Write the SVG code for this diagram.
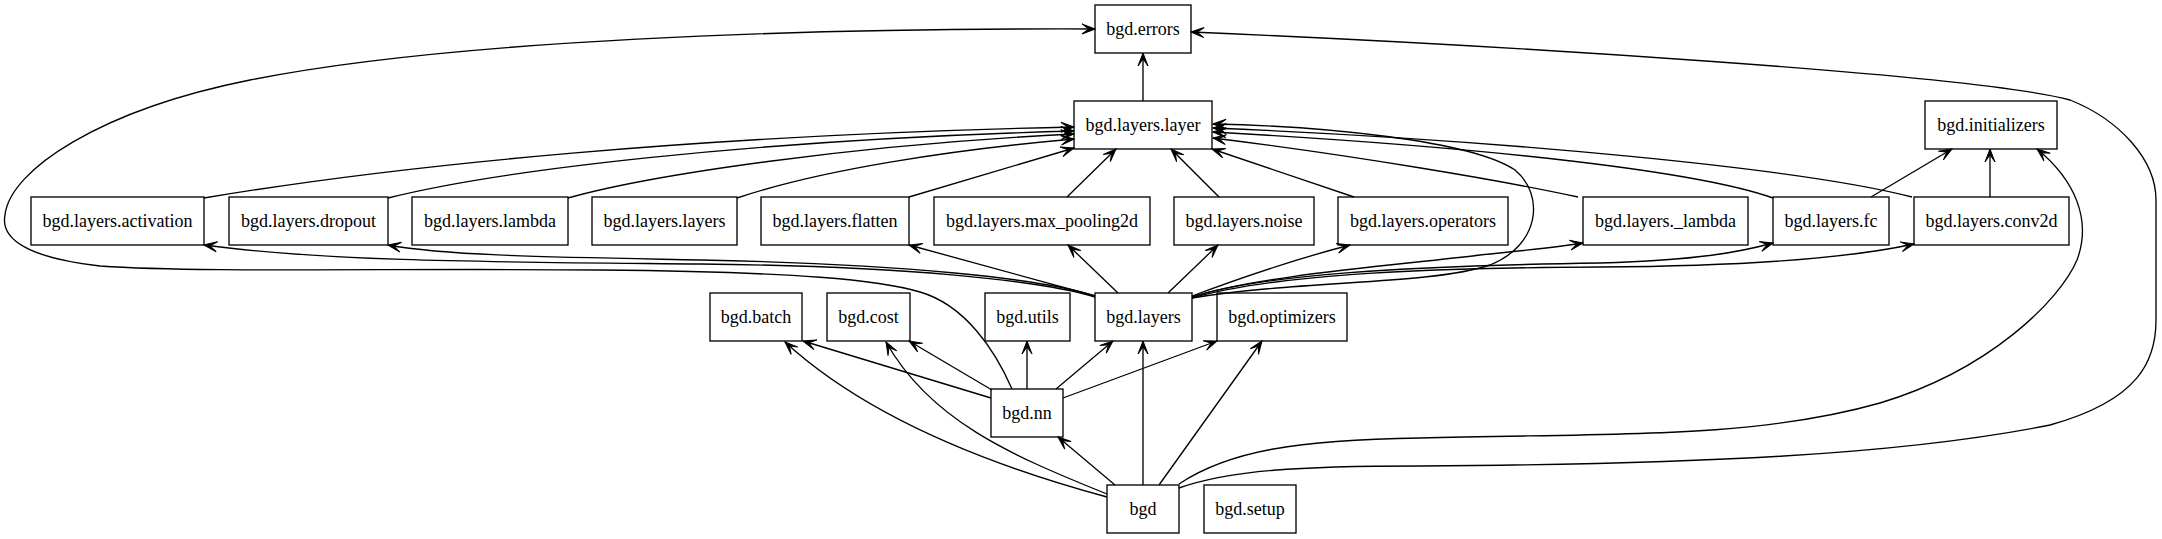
<svg xmlns="http://www.w3.org/2000/svg" width="2162" height="539" viewBox="0 0 2162 539">
<style>
.n rect{fill:none;stroke:#000;stroke-width:1.33}
.n text{font-family:"Liberation Serif","Times New Roman",serif;font-size:18px;text-anchor:middle;fill:#000}
.e path{fill:none;stroke:#000;stroke-width:1.33;marker-end:url(#a)}
</style>
<defs>
<marker id="a" viewBox="-14 -7 15 14" refX="0" refY="0" markerWidth="15" markerHeight="14" orient="auto" markerUnits="userSpaceOnUse">
<path d="M0,0 L-13,-5 L-6,0 L-13,5 Z" fill="#000" stroke="#000" stroke-width="1"/>
</marker>
</defs>
<rect width="2162" height="539" fill="#fff"/>
<g id="edges" class="e">
<path d="M1143,101 L1143,53"/>
<path d="M1012,389 C995,350 965,305 920,292 C880,280 800,272 600,270 C400,268 200,273 100,266 C30,258 0,240 5,215 C10,170 100,110 250,80 C450,40 800,28 1095,29"/>
<path d="M1179,488 C1230,470 1300,466 1420,466 C1700,464 1900,455 2050,425 C2140,400 2156,360 2156,320 L2156,200 C2156,160 2120,120 2070,100 C1980,75 1500,45 1191,32"/>
<path d="M1179,484 C1230,450 1300,440 1420,438 C1600,433 1750,440 1880,403 C1990,370 2060,300 2077,260 C2092,220 2075,180 2037,149"/>
<path d="M1095,297 C1040,280 900,266 700,264 C500,262 330,262 204,245"/>
<path d="M1095,296 C1040,278 900,264 700,260 C550,257 450,256 388,245"/>
<path d="M1095,296 L909,245"/>
<path d="M1118,293 L1068,245"/>
<path d="M1168,293 L1218,245"/>
<path d="M1192,296 C1240,278 1300,258 1350,245"/>
<path d="M1192,297 C1260,275 1400,265 1480,255 C1520,251 1560,247 1583,243"/>
<path d="M1192,297 C1260,275 1400,266 1600,263 C1700,260 1740,252 1773,243"/>
<path d="M1192,298 C1270,276 1400,268 1600,267 C1750,266 1850,258 1914,244"/>
<path d="M1192,298 C1300,280 1430,285 1490,265 C1540,245 1545,195 1515,170 C1470,140 1320,126 1213,124"/>
<path d="M204,198 C400,165 700,135 1074,127"/>
<path d="M388,198 C500,170 750,140 1074,131"/>
<path d="M568,198 C650,175 850,145 1074,134"/>
<path d="M737,198 C820,170 950,150 1074,139"/>
<path d="M909,197 L1074,148"/>
<path d="M1067,197 L1116,149"/>
<path d="M1219,197 L1171,149"/>
<path d="M1354,197 L1212,149"/>
<path d="M1578,197 C1500,180 1350,155 1213,138"/>
<path d="M1773,198 C1700,172 1500,148 1213,132"/>
<path d="M1912,197 C1800,168 1500,140 1213,128"/>
<path d="M1871,197 L1952,149"/>
<path d="M1990,197 L1990,149"/>
<path d="M991,398 L803,341"/>
<path d="M992,390 L909,341"/>
<path d="M1027,389 L1027,341"/>
<path d="M1056,389 L1113,341"/>
<path d="M1063,398 L1217,341"/>
<path d="M1107,497 C1000,468 870,420 785,342"/>
<path d="M1107,494 C1010,455 930,420 886,342"/>
<path d="M1115,485 L1058,437"/>
<path d="M1143,485 L1143,341"/>
<path d="M1159,485 L1262,341"/>
</g>
<g id="bgd.errors" class="n"><rect x="1095" y="5" width="96" height="48"/><text x="1143" y="35">bgd.errors</text></g>
<g id="bgd.layers.layer" class="n"><rect x="1074" y="101" width="138" height="48"/><text x="1143" y="131">bgd.layers.layer</text></g>
<g id="bgd.initializers" class="n"><rect x="1925" y="101" width="132" height="48"/><text x="1991" y="131">bgd.initializers</text></g>
<g id="bgd.layers.activation" class="n"><rect x="31" y="197" width="173" height="48"/><text x="117.5" y="227">bgd.layers.activation</text></g>
<g id="bgd.layers.dropout" class="n"><rect x="229" y="197" width="159" height="48"/><text x="308.5" y="227">bgd.layers.dropout</text></g>
<g id="bgd.layers.lambda" class="n"><rect x="412" y="197" width="156" height="48"/><text x="490" y="227">bgd.layers.lambda</text></g>
<g id="bgd.layers.layers" class="n"><rect x="592" y="197" width="145" height="48"/><text x="664.5" y="227">bgd.layers.layers</text></g>
<g id="bgd.layers.flatten" class="n"><rect x="761" y="197" width="148" height="48"/><text x="835" y="227">bgd.layers.flatten</text></g>
<g id="bgd.layers.max_pooling2d" class="n"><rect x="934" y="197" width="216" height="48"/><text x="1042" y="227">bgd.layers.max_pooling2d</text></g>
<g id="bgd.layers.noise" class="n"><rect x="1174" y="197" width="140" height="48"/><text x="1244" y="227">bgd.layers.noise</text></g>
<g id="bgd.layers.operators" class="n"><rect x="1338" y="197" width="170" height="48"/><text x="1423" y="227">bgd.layers.operators</text></g>
<g id="bgd.layers._lambda" class="n"><rect x="1583" y="197" width="165" height="48"/><text x="1665.5" y="227">bgd.layers._lambda</text></g>
<g id="bgd.layers.fc" class="n"><rect x="1773" y="197" width="116" height="48"/><text x="1831" y="227">bgd.layers.fc</text></g>
<g id="bgd.layers.conv2d" class="n"><rect x="1914" y="197" width="155" height="48"/><text x="1991.5" y="227">bgd.layers.conv2d</text></g>
<g id="bgd.batch" class="n"><rect x="710" y="293" width="92" height="48"/><text x="756" y="323">bgd.batch</text></g>
<g id="bgd.cost" class="n"><rect x="827" y="293" width="83" height="48"/><text x="868.5" y="323">bgd.cost</text></g>
<g id="bgd.utils" class="n"><rect x="985" y="293" width="85" height="48"/><text x="1027.5" y="323">bgd.utils</text></g>
<g id="bgd.layers" class="n"><rect x="1095" y="293" width="97" height="48"/><text x="1143.5" y="323">bgd.layers</text></g>
<g id="bgd.optimizers" class="n"><rect x="1217" y="293" width="130" height="48"/><text x="1282" y="323">bgd.optimizers</text></g>
<g id="bgd.nn" class="n"><rect x="991" y="389" width="72" height="48"/><text x="1027" y="419">bgd.nn</text></g>
<g id="bgd" class="n"><rect x="1107" y="485" width="72" height="48"/><text x="1143" y="515">bgd</text></g>
<g id="bgd.setup" class="n"><rect x="1204" y="485" width="92" height="48"/><text x="1250" y="515">bgd.setup</text></g>
</svg>
